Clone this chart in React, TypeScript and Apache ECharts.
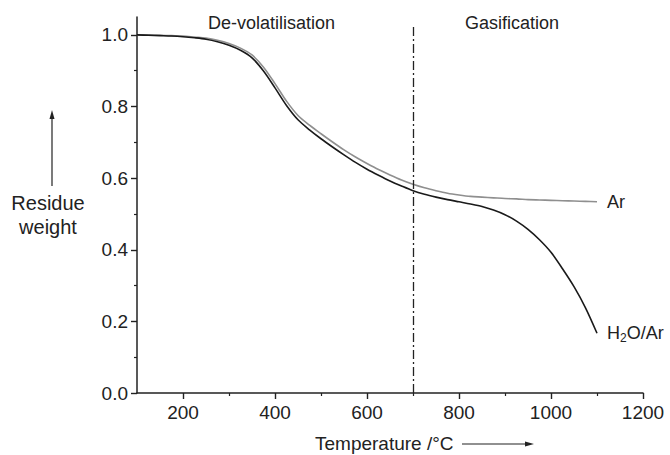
import React, { useEffect, useRef } from "react";
import * as echarts from "echarts";

const temps = [
  100, 125, 150, 175, 200, 225, 250, 275, 300, 325, 350, 375, 400, 425, 450, 475, 500, 525, 550, 575, 600,
  625, 650, 675, 700, 725, 750, 775, 800, 825, 850, 875, 900, 925, 950, 975, 1000, 1025, 1050, 1075, 1100,
];
const h2oAr = [
  1.0, 0.999, 0.998, 0.997, 0.995, 0.992, 0.988, 0.981, 0.971, 0.957, 0.936, 0.899, 0.852, 0.803, 0.763, 0.735,
  0.71, 0.687, 0.665, 0.644, 0.625, 0.608, 0.592, 0.578, 0.565, 0.555, 0.547, 0.54, 0.534, 0.528, 0.521, 0.511,
  0.498, 0.48, 0.457, 0.428, 0.393, 0.347, 0.297, 0.238, 0.167,
];
const ar = [
  1.0, 1.0, 0.999, 0.998, 0.997, 0.994, 0.991, 0.985, 0.976, 0.963, 0.944, 0.91, 0.864, 0.815, 0.775, 0.748,
  0.724, 0.701, 0.679, 0.659, 0.641, 0.624, 0.609, 0.595, 0.583, 0.573, 0.565, 0.558, 0.553, 0.549, 0.547, 0.545,
  0.543, 0.542, 0.54, 0.539, 0.538, 0.537, 0.536, 0.535, 0.534,
];
const xRange = [100, 1200];
const xTickRange = [200, 1200];
const xTickStep = 200;
const yRange = [0, 1.05];
const yTickRange = [0, 1.0];
const yTickStep = 0.2;
const dividerTemp = 700;
const dividerTop = 1.022;

const FONT = "Liberation Sans, Arial, sans-serif";
const TXT = "#222";

const W = 670;
const H = 455;
const G = { left: 137, right: 27, top: 17, bottom: 62 };

export default function App() {
  const ref = useRef<HTMLDivElement>(null);
  useEffect(() => {
    if (!ref.current) return;
    const chart = echarts.init(ref.current, null, { renderer: "svg" });
    const plotW = W - G.left - G.right;
    const plotH = H - G.top - G.bottom;
    // grid for y ticks: same pixel scale, spanning only 0..1.0
    const gY = {
      left: G.left,
      right: G.right,
      top: G.top + (plotH * (yRange[1] - yTickRange[1])) / (yRange[1] - yRange[0]),
      bottom: G.bottom,
    };
    // grid for x ticks: same pixel scale, spanning only 200..1200
    const gX = {
      left: G.left + (plotW * (xTickRange[0] - xRange[0])) / (xRange[1] - xRange[0]),
      right: G.right,
      top: G.top,
      bottom: G.bottom,
    };
    const tick = { show: true, inside: false, length: 6, lineStyle: { color: TXT, width: 1.4 } };
    const minor = { show: true, splitNumber: 2, length: 3, lineStyle: { color: TXT, width: 1.2 } };
    const lineOnly = {
      axisLine: { show: true, lineStyle: { color: TXT, width: 1.5 } },
      axisTick: { show: false },
      axisLabel: { show: false },
      minorTick: { show: false },
      splitLine: { show: false },
    };
    const label = { color: TXT, fontSize: 19, fontFamily: FONT };
    const hidden = { type: "value", show: false, splitLine: { show: false } };
    chart.setOption({
      animation: false,
      backgroundColor: "#fff",
      textStyle: { fontFamily: FONT },
      grid: [
        { ...G, containLabel: false, outerBoundsMode: "none" },
        { ...gY, containLabel: false, outerBoundsMode: "none" },
        { ...gX, containLabel: false, outerBoundsMode: "none" },
      ],
      xAxis: [
        { type: "value", gridIndex: 0, min: xRange[0], max: xRange[1], ...lineOnly },
        { ...hidden, gridIndex: 1, min: xRange[0], max: xRange[1] },
        {
          type: "value",
          gridIndex: 2,
          min: xTickRange[0],
          max: xTickRange[1],
          interval: xTickStep,
          axisLine: { show: false },
          axisTick: tick,
          minorTick: minor,
          splitLine: { show: false },
          axisLabel: { ...label, margin: 10, formatter: (v: number) => String(v) },
        },
      ],
      yAxis: [
        { type: "value", gridIndex: 0, min: yRange[0], max: yRange[1], ...lineOnly },
        {
          type: "value",
          gridIndex: 1,
          min: yTickRange[0],
          max: yTickRange[1],
          interval: yTickStep,
          axisLine: { show: false },
          axisTick: tick,
          minorTick: minor,
          splitLine: { show: false },
          axisLabel: { ...label, margin: 9, formatter: (v: number) => v.toFixed(1) },
        },
        { ...hidden, gridIndex: 2, min: yRange[0], max: yRange[1] },
      ],
      series: [
        {
          name: "Ar",
          type: "line",
          xAxisIndex: 0,
          yAxisIndex: 0,
          data: temps.map((t, i) => [t, ar[i]]),
          smooth: 0.3,
          showSymbol: false,
          lineStyle: { color: "#8f8f8f", width: 1.6 },
          endLabel: { show: true, formatter: "Ar", color: TXT, fontSize: 18, fontFamily: FONT, distance: 10 },
          z: 2,
        },
        {
          name: "H2O/Ar",
          type: "line",
          xAxisIndex: 0,
          yAxisIndex: 0,
          data: temps.map((t, i) => [t, h2oAr[i]]),
          smooth: 0.3,
          showSymbol: false,
          lineStyle: { color: "#1a1a1a", width: 1.6 },
          endLabel: {
            show: true,
            distance: 10,
            formatter: "{a|H}{s|2}{a|O/Ar}",
            rich: {
              a: { color: TXT, fontSize: 18, fontFamily: FONT },
              s: { color: TXT, fontSize: 12, fontFamily: FONT, padding: [10, 0, 0, 0] },
            },
          },
          markLine: {
            silent: true,
            symbol: "none",
            label: { show: false },
            lineStyle: { color: TXT, type: [9, 3, 2, 3], width: 1.3 },
            data: [[{ coord: [dividerTemp, 0] }, { coord: [dividerTemp, dividerTop] }]],
          },
          z: 3,
        },
      ],
      graphic: [
        { type: "text", left: 208, top: 14, style: { text: "De-volatilisation", fill: TXT, fontSize: 18, fontFamily: FONT } },
        { type: "text", left: 465, top: 14, style: { text: "Gasification", fill: TXT, fontSize: 18, fontFamily: FONT } },
        {
          type: "text",
          x: 48,
          y: 215,
          style: {
            text: "Residue\nweight",
            fill: TXT,
            fontSize: 20,
            fontFamily: FONT,
            align: "center",
            verticalAlign: "middle",
            lineHeight: 24,
          },
        },
        { type: "line", shape: { x1: 52, y1: 186, x2: 52, y2: 117 }, style: { stroke: TXT, lineWidth: 1.2 } },
        { type: "polygon", shape: { points: [[52, 110], [49.5, 119], [54.5, 119]] }, style: { fill: TXT } },
        {
          type: "text",
          x: 315,
          y: 443,
          style: { text: "Temperature /°C", fill: TXT, fontSize: 19, fontFamily: FONT, verticalAlign: "middle" },
        },
        { type: "line", shape: { x1: 462, y1: 444, x2: 526, y2: 444 }, style: { stroke: TXT, lineWidth: 1.2 } },
        { type: "polygon", shape: { points: [[534, 444], [525, 441.5], [525, 446.5]] }, style: { fill: TXT } },
      ],
    });
    return () => chart.dispose();
  }, []);
  return <div ref={ref} style={{ position: "fixed", left: 0, top: 0, width: W, height: H }} />;
}
